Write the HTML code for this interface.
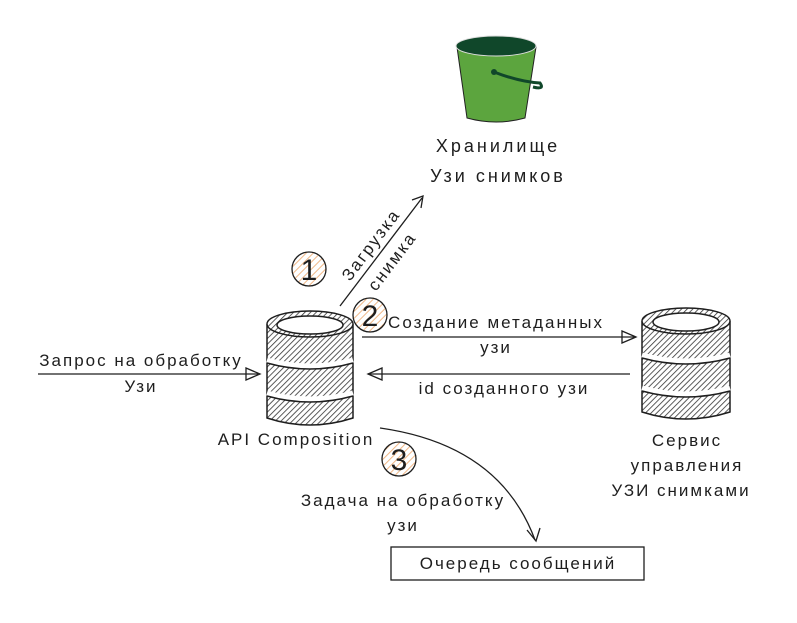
<!DOCTYPE html>
<html><head><meta charset="utf-8"><style>
body{margin:0;background:#fff;width:797px;height:618px;overflow:hidden}
svg text{font-family:"Liberation Sans","DejaVu Sans",sans-serif;fill:#1e1e1e;letter-spacing:2px}
</style></head><body>
<svg width="797" height="618" viewBox="0 0 797 618" xmlns="http://www.w3.org/2000/svg">
<defs>
<pattern id="h" width="4" height="4" patternUnits="userSpaceOnUse" patternTransform="rotate(45)">
<rect width="4" height="4" fill="#fff"/><line x1="0" y1="0" x2="0" y2="4" stroke="#333" stroke-width="1.6"/></pattern>
<pattern id="o" width="5" height="5" patternUnits="userSpaceOnUse" patternTransform="rotate(45)">
<rect width="5" height="5" fill="#fff"/><line x1="0" y1="0" x2="0" y2="5" stroke="#f0b888" stroke-width="2"/></pattern>
</defs>
<!-- bucket -->
<path d="M457 47 L467 118 Q496 126 525 118 L536 47 Z" fill="#5ca53e" stroke="#222" stroke-width="1"/>
<ellipse cx="496" cy="46" rx="40" ry="10" fill="#10472a" stroke="#ddd"/>
<path d="M494 72 Q520 82 540 83 Q545 90 533 87" fill="none" stroke="#10472a" stroke-width="3"/>
<circle cx="494" cy="72" r="3" fill="#10472a"/>
<text x="498" y="152" text-anchor="middle" font-size="18" style="letter-spacing:3px">Хранилище</text>
<text x="498" y="182" text-anchor="middle" font-size="18" style="letter-spacing:3px">Узи снимков</text>
<!-- left cylinder -->
<g stroke="#1e1e1e" stroke-width="1.5">
<path d="M267 325 L267 418 Q310 432 353 418 L353 325 Z" fill="url(#h)"/>
<ellipse cx="310" cy="324" rx="43" ry="13" fill="url(#h)"/>
<ellipse cx="310" cy="325" rx="33" ry="9" fill="#fff"/>
<path d="M267 360 Q310 372 353 360" fill="none" stroke="#fff" stroke-width="5"/>
<path d="M267 363 Q310 375 353 363" fill="none"/>
<path d="M267 393 Q310 405 353 393" fill="none" stroke="#fff" stroke-width="5"/>
<path d="M267 396 Q310 408 353 396" fill="none"/>
</g>
<!-- right cylinder -->
<g stroke="#1e1e1e" stroke-width="1.5">
<path d="M642 322 L642 412 Q686 426 730 412 L730 322 Z" fill="url(#h)"/>
<ellipse cx="686" cy="321" rx="44" ry="13" fill="url(#h)"/>
<ellipse cx="686" cy="322" rx="33" ry="9" fill="#fff"/>
<path d="M642 355 Q686 367 730 355" fill="none" stroke="#fff" stroke-width="5"/>
<path d="M642 358 Q686 370 730 358" fill="none"/>
<path d="M642 388 Q686 400 730 388" fill="none" stroke="#fff" stroke-width="5"/>
<path d="M642 391 Q686 403 730 391" fill="none"/>
</g>
<!-- arrows -->
<g stroke="#1e1e1e" stroke-width="1.3" fill="none">
<line x1="340" y1="306" x2="422" y2="198"/>
<path d="M412 200 L423 196 L421 208"/>
<line x1="362" y1="337" x2="636" y2="337"/>
<path d="M622 331 L636 337 L622 343 Z"/>
<line x1="630" y1="374" x2="368" y2="374"/>
<path d="M382 368 L368 374 L382 380 Z"/>
<line x1="38" y1="374" x2="258" y2="374"/>
<path d="M246 368 L260 374 L246 380 Z"/>
<path d="M380 428 Q500 445 535 540"/>
<path d="M527 530 L536 541 L540 528"/>
</g>
<!-- circles -->
<circle cx="309" cy="269" r="17" fill="url(#o)" stroke="#1e1e1e" stroke-width="1.3"/>
<text x="309" y="280" text-anchor="middle" font-size="30" style="letter-spacing:0">1</text>
<circle cx="370" cy="315" r="17" fill="url(#o)" stroke="#1e1e1e" stroke-width="1.3"/>
<text x="370" y="326" text-anchor="middle" font-size="30" style="letter-spacing:0">2</text>
<circle cx="399" cy="459" r="17" fill="url(#o)" stroke="#1e1e1e" stroke-width="1.3"/>
<text x="399" y="470" text-anchor="middle" font-size="30" style="letter-spacing:0">3</text>
<!-- labels -->
<text transform="translate(350,282) rotate(-53)" font-size="17">Загрузка</text>
<text transform="translate(376,292) rotate(-53)" font-size="17">снимка</text>
<text x="496" y="328" text-anchor="middle" font-size="17">Создание метаданных</text>
<text x="496" y="353" text-anchor="middle" font-size="17">узи</text>
<text x="504" y="394" text-anchor="middle" font-size="17">id созданного узи</text>
<text x="141" y="366" text-anchor="middle" font-size="17">Запрос на обработку</text>
<text x="141" y="392" text-anchor="middle" font-size="17">Узи</text>
<text x="296" y="445" text-anchor="middle" font-size="17">API Composition</text>
<text x="687" y="446" text-anchor="middle" font-size="17">Сервис</text>
<text x="687" y="471" text-anchor="middle" font-size="17">управления</text>
<text x="681" y="496" text-anchor="middle" font-size="17">УЗИ снимками</text>
<text x="403" y="506" text-anchor="middle" font-size="17">Задача на обработку</text>
<text x="403" y="531" text-anchor="middle" font-size="17">узи</text>
<rect x="391" y="547" width="253" height="33" fill="#fff" stroke="#1e1e1e" stroke-width="1.3"/>
<text x="518" y="569" text-anchor="middle" font-size="17">Очередь сообщений</text>
</svg>
</body></html>
